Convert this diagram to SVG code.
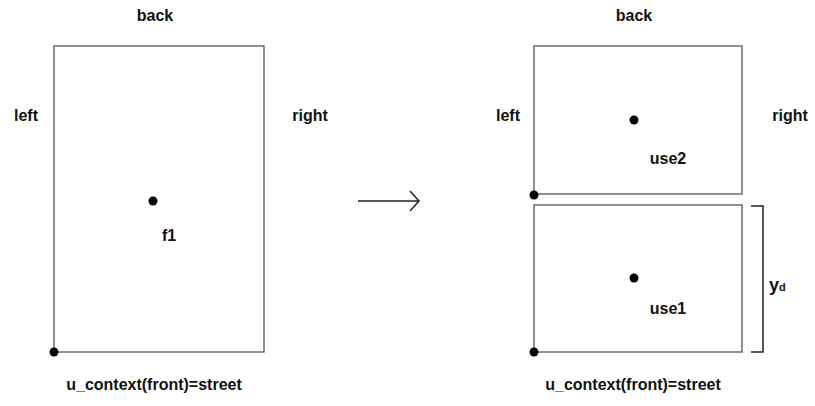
<svg xmlns="http://www.w3.org/2000/svg" width="815" height="406" viewBox="0 0 815 406">
<style>
text{font-family:"Liberation Sans",Arial,sans-serif;font-size:16px;fill:#111;font-weight:600;text-anchor:middle}
.box{fill:none;stroke:#555;stroke-width:1.3}
.dot{fill:#000}
.ln{fill:none;stroke:#222;stroke-width:1.5}
</style>
<rect width="815" height="406" fill="#fff"/>
<g id="left-frame">
<rect class="box" x="54" y="46" width="210" height="306"/>
<circle class="dot" cx="54" cy="352" r="4.5"/>
<circle class="dot" cx="153" cy="201" r="4.5"/>
<text x="155" y="21">back</text>
<text x="26" y="121">left</text>
<text x="310" y="121">right</text>
<text x="169" y="241">f1</text>
<text x="154" y="390">u_context(front)=street</text>
</g>
<g id="right-top">
<rect class="box" x="534" y="46" width="208" height="148"/>
<circle class="dot" cx="534" cy="195" r="4.5"/>
<circle class="dot" cx="634" cy="120" r="4.5"/>
<text x="668" y="164">use2</text>
</g>
<g id="right-bottom">
<rect class="box" x="534" y="205" width="208" height="147"/>
<circle class="dot" cx="534" cy="352" r="4.5"/>
<circle class="dot" cx="634" cy="278" r="4.5"/>
<text x="668" y="314">use1</text>
</g>
<g id="right-labels">
<text x="634" y="21">back</text>
<text x="508" y="121">left</text>
<text x="790" y="121">right</text>
<text x="633" y="390">u_context(front)=street</text>
<text x="769" y="291" style="text-anchor:start;font-size:18px">y<tspan style="font-size:11px">d</tspan></text>
</g>
<g id="connectors">
<path class="ln" d="M358 201H419M410 191L419 201L410 211" stroke-width="1.9"/>
<path class="ln" d="M751 206H763V352H751" stroke-width="1.2"/>
</g>
</svg>
